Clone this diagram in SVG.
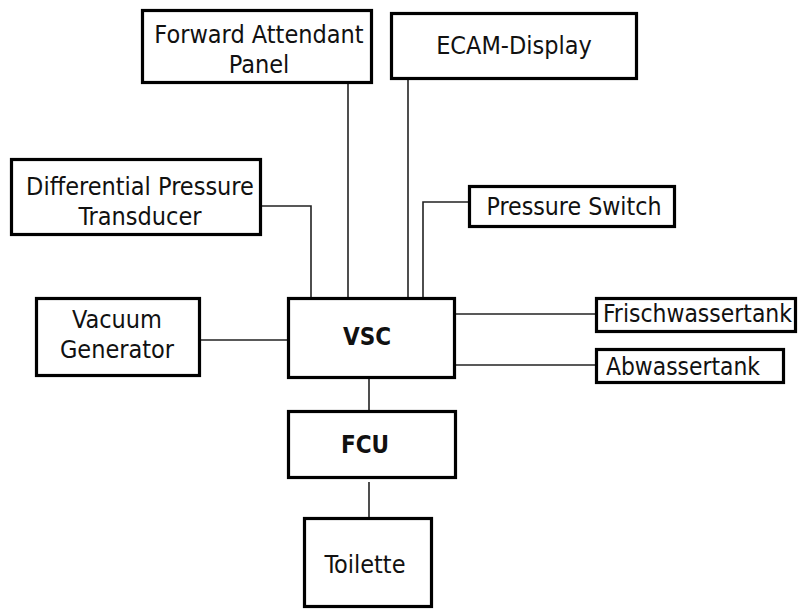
<svg xmlns="http://www.w3.org/2000/svg" width="799" height="610" viewBox="0 0 799 610">
  <style>
    .box { fill: #fff; stroke: #000; stroke-width: 3.2; }
    .wire { fill: none; stroke: #222; stroke-width: 1.6; }
    text { font-family: "DejaVu Sans Condensed", "DejaVu Sans", sans-serif; font-size: 25px; fill: #111; }
    .c { text-anchor: middle; }
    .b { font-weight: bold; font-size: 24px; }
  </style>
  <rect width="799" height="610" fill="#fff"/>

  <!-- connectors -->
  <g id="connectors">
    <line class="wire" x1="348" y1="84" x2="348" y2="297"/>
    <line class="wire" x1="408" y1="80" x2="408" y2="297"/>
    <polyline class="wire" points="262,206 311,206 311,297"/>
    <polyline class="wire" points="468,202 423,202 423,297"/>
    <line class="wire" x1="201" y1="340" x2="287" y2="340"/>
    <line class="wire" x1="456" y1="314" x2="595" y2="314"/>
    <line class="wire" x1="456" y1="365" x2="595" y2="365"/>
    <line class="wire" x1="369" y1="379" x2="369" y2="410"/>
    <line class="wire" x1="369" y1="482" x2="369" y2="517"/>
  </g>

  <g id="forward-attendant-panel">
    <rect class="box" x="142.5" y="10.5" width="229" height="72"/>
    <text class="c" x="259" y="43">Forward Attendant</text>
    <text class="c" x="259" y="73">Panel</text>
  </g>

  <g id="ecam-display">
    <rect class="box" x="391.5" y="13.5" width="245" height="65"/>
    <text class="c" x="514" y="54">ECAM-Display</text>
  </g>

  <g id="differential-pressure-transducer">
    <rect class="box" x="11.5" y="159.5" width="249" height="75"/>
    <text class="c" x="140" y="195">Differential Pressure</text>
    <text class="c" x="140" y="225">Transducer</text>
  </g>

  <g id="pressure-switch">
    <rect class="box" x="469.5" y="186.5" width="205" height="40"/>
    <text class="c" x="574" y="215" textLength="175" lengthAdjust="spacingAndGlyphs">Pressure Switch</text>
  </g>

  <g id="vacuum-generator">
    <rect class="box" x="36.5" y="298.5" width="163" height="77"/>
    <text class="c" x="117" y="328">Vacuum</text>
    <text class="c" x="117" y="358">Generator</text>
  </g>

  <g id="vsc">
    <rect class="box" x="288.5" y="298.5" width="166" height="79"/>
    <text class="c b" x="367" y="345">VSC</text>
  </g>

  <g id="frischwassertank">
    <rect class="box" x="596.5" y="298.5" width="199" height="33"/>
    <text x="603" y="322" textLength="189" lengthAdjust="spacingAndGlyphs">Frischwassertank</text>
  </g>

  <g id="abwassertank">
    <rect class="box" x="596.5" y="349.5" width="187" height="33"/>
    <text x="606" y="375" textLength="154" lengthAdjust="spacingAndGlyphs">Abwassertank</text>
  </g>

  <g id="fcu">
    <rect class="box" x="288.5" y="411.5" width="167" height="66"/>
    <text class="c b" x="365" y="453">FCU</text>
  </g>

  <g id="toilette">
    <rect class="box" x="304.5" y="518.5" width="127" height="88"/>
    <text class="c" x="365" y="573">Toilette</text>
  </g>
</svg>
